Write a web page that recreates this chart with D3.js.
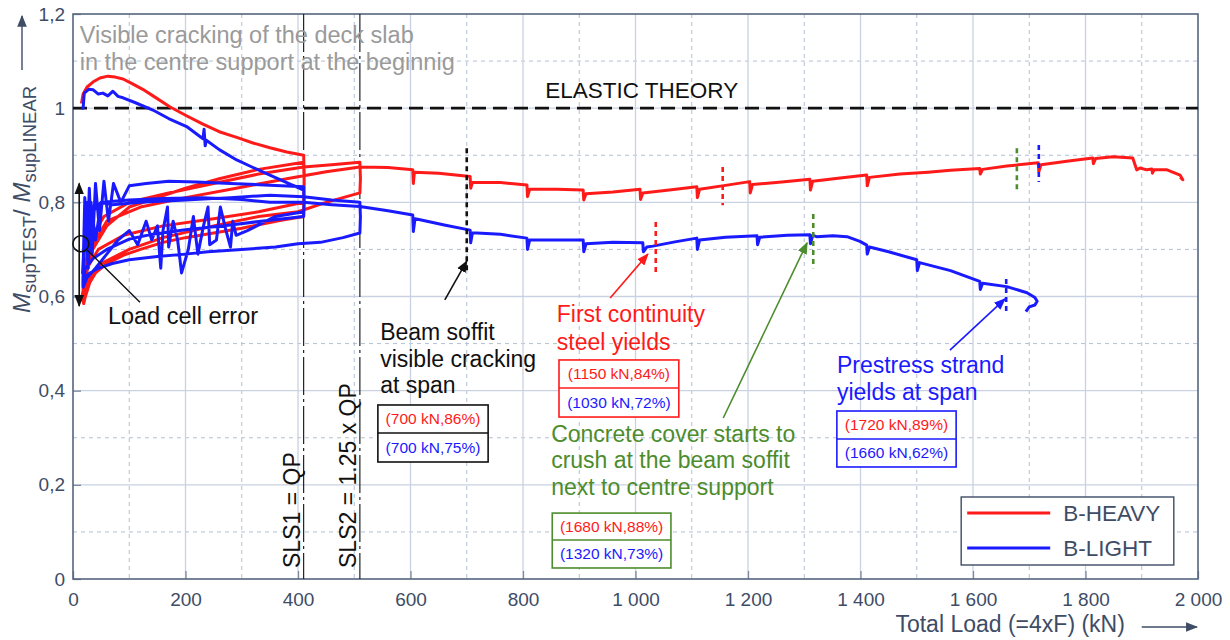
<!DOCTYPE html>
<html>
<head>
<meta charset="utf-8">
<script src="https://cdn.jsdelivr.net/npm/d3@7"></script>
<style>
  body { margin: 0; background: #fff; }
  text { font-family: "Liberation Sans", Arial, Helvetica, sans-serif; }
</style>
</head>
<body>
<div id="chart"></div>
<script>
// ---- data: [total load kN, M_supTEST / M_supLINEAR] ----
const heavy = [
  // first loading up to SLS1
  [15,1.01],[18,1.03],[25,1.045],[36,1.056],[48,1.064],[62,1.068],[75,1.066],[89,1.062],[105,1.052],[124,1.04],
  [145,1.024],[172,1.003],[200,0.985],[231,0.966],[260,0.95],[291,0.938],[320,0.926],[350,0.916],[380,0.907],[410,0.9],
  [411,0.86],[410,0.77],
  // unload 1
  [370,0.762],[300,0.745],[250,0.735],[200,0.725],[160,0.715],[120,0.7],[90,0.688],[60,0.67],[40,0.65],[30,0.63],[22,0.6],[19,0.585],[16,0.6],
  // reload 2
  [22,0.64],[35,0.7],[60,0.75],[100,0.79],[150,0.81],[200,0.83],[260,0.85],[330,0.87],[410,0.885],
  [411,0.84],[410,0.8],
  // unload 2
  [370,0.79],[330,0.78],[250,0.765],[160,0.75],[90,0.73],[45,0.7],[25,0.66],[18,0.62],
  // reload 3 up to SLS2
  [18,0.64],[30,0.72],[55,0.77],[100,0.8],[170,0.82],[250,0.84],[330,0.86],[410,0.875],[460,0.88],[510,0.885],
  [511,0.85],[510,0.82],
  // unload 3
  [450,0.8],[400,0.78],[330,0.77],[250,0.75],[160,0.725],[100,0.7],[50,0.67],[25,0.63],[18,0.6],
  // reload 4 and continuation
  [18,0.62],[30,0.7],[60,0.76],[120,0.79],[200,0.81],[290,0.83],[380,0.85],[450,0.865],[510,0.875],
  [560,0.874],[604,0.869],[605,0.84],[607,0.864],[650,0.862],[706,0.855],[707,0.83],[710,0.842],[760,0.842],
  [807,0.837],[808,0.812],[812,0.828],[860,0.828],[907,0.826],[908,0.805],[912,0.818],[960,0.822],
  [1008,0.828],[1009,0.806],[1013,0.82],[1060,0.826],[1109,0.833],[1110,0.81],[1114,0.828],[1160,0.836],
  [1203,0.844],[1204,0.82],[1208,0.838],[1260,0.843],[1310,0.849],[1311,0.826],[1315,0.845],[1360,0.851],
  [1411,0.858],[1412,0.835],[1416,0.853],[1470,0.86],[1520,0.864],[1560,0.868],[1612,0.872],[1613,0.86],
  [1617,0.87],[1660,0.877],[1716,0.884],[1717,0.865],[1721,0.88],[1770,0.888],[1813,0.894],[1814,0.882],
  [1818,0.893],[1849,0.897],[1884,0.894],[1891,0.869],[1897,0.873],[1909,0.869],[1918,0.871],[1919,0.862],
  [1922,0.869],[1945,0.869],[1968,0.858],[1973,0.848],[1968,0.854]
];

const light = [
  // first loading up to SLS1
  [15,1.0],[18,1.0],[20,1.032],[28,1.04],[36,1.039],[45,1.03],[53,1.032],[62,1.026],[71,1.036],[80,1.025],
  [89,1.022],[110,1.012],[142,0.996],[170,0.978],[202,0.961],[231,0.935],[233,0.955],[235,0.92],[237,0.932],
  [260,0.912],[291,0.89],[320,0.874],[350,0.858],[380,0.842],[410,0.826],
  [411,0.8],[410,0.77],
  // unload 1
  [350,0.762],[280,0.752],[200,0.742],[140,0.732],[100,0.722],[60,0.7],[35,0.68],[22,0.66],[18,0.63],
  // reload 2 (load cell error at start)
  [18,0.66],[21,0.81],[25,0.7],[29,0.83],[34,0.69],[40,0.84],[47,0.74],[55,0.845],[63,0.76],[72,0.84],
  [85,0.8],[100,0.835],[130,0.84],[170,0.845],[220,0.843],[280,0.84],[340,0.837],[410,0.833],
  [411,0.8],[410,0.78],
  // unload 2 with oscillations
  [360,0.77],[310,0.74],[290,0.73],[284,0.76],[280,0.705],[272,0.74],[262,0.79],[255,0.72],[243,0.71],
  [240,0.79],[232,0.75],[222,0.69],[214,0.77],[205,0.7],[193,0.65],[186,0.72],[178,0.76],[170,0.705],
  [168,0.79],[160,0.74],[156,0.66],[150,0.75],[140,0.72],[130,0.76],[115,0.71],[100,0.74],[80,0.72],
  [60,0.69],[40,0.66],[25,0.64],[18,0.62],
  // reload 3 up to SLS2
  [18,0.64],[22,0.76],[27,0.66],[32,0.8],[40,0.72],[50,0.8],[70,0.795],[120,0.8],[200,0.805],[280,0.81],
  [350,0.815],[410,0.812],[460,0.805],[510,0.8],
  [511,0.77],[510,0.735],
  // unload 3 (lowest branch)
  [480,0.725],[440,0.715],[400,0.712],[360,0.705],[300,0.7],[240,0.695],[200,0.69],[150,0.685],[100,0.678],
  [70,0.67],[45,0.66],[30,0.65],[20,0.64],[17,0.65],
  // reload 4 and continuation
  [20,0.72],[26,0.8],[35,0.78],[50,0.8],[100,0.805],[160,0.808],[230,0.81],[300,0.806],[350,0.8],[410,0.8],
  [460,0.795],[510,0.791],[560,0.782],[604,0.773],[605,0.738],[608,0.765],[617,0.763],[660,0.752],
  [706,0.741],[707,0.714],[710,0.735],[718,0.735],[760,0.732],[807,0.724],[808,0.7],[812,0.72],[860,0.72],
  [907,0.72],[908,0.695],[912,0.712],[960,0.715],[1013,0.714],[1014,0.695],[1020,0.705],[1031,0.707],
  [1070,0.716],[1109,0.724],[1110,0.7],[1114,0.72],[1160,0.726],[1216,0.729],[1217,0.71],[1221,0.726],
  [1270,0.73],[1310,0.731],[1311,0.712],[1315,0.73],[1322,0.727],[1351,0.729],[1376,0.727],[1399,0.717],
  [1411,0.709],[1412,0.69],[1416,0.705],[1450,0.695],[1500,0.678],[1501,0.655],[1505,0.672],[1560,0.655],
  [1612,0.632],[1613,0.615],[1617,0.628],[1660,0.621],[1696,0.608],[1710,0.598],[1714,0.59],[1710,0.582],
  [1700,0.578],[1694,0.568]
];

// event markers: [load, top ratio, bottom ratio, colour]
const events = [
  [700, 0.915, 0.652, "#111"],
  [1155, 0.875, 0.794, "#ff1a1a"],
  [1036, 0.758, 0.65, "#ff1a1a"],
  [1316, 0.775, 0.66, "#4c8c2c"],
  [1678, 0.915, 0.82, "#4c8c2c"],
  [1717, 0.922, 0.843, "#1a1aff"],
  [1659, 0.637, 0.561, "#1a1aff"]
];

const slsLoads = [410, 510];
const slsLabels = ["SLS1 = QP", "SLS2 = 1.25 x QP"];
const seriesNames = ["B-HEAVY", "B-LIGHT"];
const xTicks = [0, 200, 400, 600, 800, 1000, 1200, 1400, 1600, 1800, 2000];
const yTicks = [0, 0.2, 0.4, 0.6, 0.8, 1.0, 1.2];

// ---- layout ----
const RED = "#ff1a1a", BLUE = "#1a1aff", GREEN = "#4c8c2c", SLATE = "#3e4c66";
const margin = {top: 14, right: 32, bottom: 61, left: 73};
const width = 1230 - margin.left - margin.right;
const height = 640 - margin.top - margin.bottom;

const svg = d3.select("#chart").append("svg")
  .attr("width", 1230).attr("height", 640);

const defs = svg.append("defs");
function arrowMarker(id, color, size) {
  defs.append("marker")
    .attr("id", id).attr("viewBox", "0 0 10 10")
    .attr("refX", 9).attr("refY", 5)
    .attr("markerWidth", size).attr("markerHeight", size)
    .attr("markerUnits", "userSpaceOnUse")
    .attr("orient", "auto-start-reverse")
    .append("path").attr("d", "M0,1 L10,5 L0,9 Z").attr("fill", color);
}
arrowMarker("ah-black", "#111", 12);
arrowMarker("ah-red", RED, 12);
arrowMarker("ah-green", GREEN, 12);
arrowMarker("ah-blue", BLUE, 12);
arrowMarker("ah-slate", SLATE, 12);

const g = svg.append("g").attr("transform", `translate(${margin.left},${margin.top})`);

const x = d3.scaleLinear().domain([0, 2000]).range([0, width]);
const y = d3.scaleLinear().domain([0, 1.2]).range([height, 0]);

// ---- grid ----
const minorX = d3.range(100, 2000, 200);
const minorY = d3.range(0.1, 1.2, 0.2);
g.append("g").selectAll("line").data(minorX).enter().append("line")
  .attr("x1", d => x(d)).attr("x2", d => x(d)).attr("y1", 0).attr("y2", height)
  .attr("stroke", "#b3bfd3").attr("stroke-width", 1).attr("stroke-dasharray", "4,4");
g.append("g").selectAll("line").data(minorY).enter().append("line")
  .attr("y1", d => y(d)).attr("y2", d => y(d)).attr("x1", 0).attr("x2", width)
  .attr("stroke", "#b3bfd3").attr("stroke-width", 1).attr("stroke-dasharray", "4,4");
g.append("g").selectAll("line").data(xTicks.slice(1, -1)).enter().append("line")
  .attr("x1", d => x(d)).attr("x2", d => x(d)).attr("y1", 0).attr("y2", height)
  .attr("stroke", "#c9d2e2").attr("stroke-width", 1.3);
g.append("g").selectAll("line").data(yTicks.slice(1, -1)).enter().append("line")
  .attr("y1", d => y(d)).attr("y2", d => y(d)).attr("x1", 0).attr("x2", width)
  .attr("stroke", "#c9d2e2").attr("stroke-width", 1.3);

// ---- axes ----
const fmtX = d => d >= 1000 ? d3.format(",")(d).replace(",", " ") : String(d);
const fmtY = d => String(+d.toFixed(1)).replace(".", ",");

const xAxis = g.append("g").attr("transform", `translate(0,${height})`)
  .call(d3.axisBottom(x).tickValues(xTicks).tickFormat(fmtX).tickSize(-8).tickPadding(14));
const yAxis = g.append("g")
  .call(d3.axisLeft(y).tickValues(yTicks).tickFormat(fmtY).tickSize(-8).tickPadding(8));
[xAxis, yAxis].forEach(a => {
  a.select(".domain").remove();
  a.selectAll(".tick line").attr("stroke", "#7d8aa0").attr("stroke-width", 1.3);
  a.selectAll(".tick text").attr("fill", SLATE).style("font-size", "19px")
    .style("font-family", "'Liberation Sans', Arial, sans-serif");
});

g.append("rect").attr("width", width).attr("height", height)
  .attr("fill", "none").attr("stroke", "#56657d").attr("stroke-width", 1.6);

// ---- SLS lines ----
g.append("g").selectAll("line").data(slsLoads).enter().append("line")
  .attr("x1", d => x(d)).attr("x2", d => x(d)).attr("y1", 0).attr("y2", height)
  .attr("stroke", "#222").attr("stroke-width", 1.2).attr("stroke-dasharray", "38,4,3,4");
g.append("g").selectAll("text").data(slsLoads).enter().append("text")
  .attr("transform", (d, i) => `translate(${x(d) - 4},${y(0.0234)}) rotate(-90)`)
  .style("font-size", "23px").attr("fill", "#111")
  .text((d, i) => slsLabels[i]);

// ---- elastic theory ----
g.append("line").attr("x1", x(0)).attr("x2", x(2000)).attr("y1", y(1)).attr("y2", y(1))
  .attr("stroke", "#111").attr("stroke-width", 2.6).attr("stroke-dasharray", "14,7");
g.append("text").attr("x", x(1011)).attr("y", y(1.0217)).attr("text-anchor", "middle")
  .style("font-size", "22.5px").attr("fill", "#111").text("ELASTIC THEORY");

g.append("text").attr("x", x(12)).attr("y", y(1.1385)).style("font-size", "23.5px")
  .attr("fill", "#9a9a9a").text("Visible cracking of the deck slab");
g.append("text").attr("x", x(12)).attr("y", y(1.081)).style("font-size", "23.5px")
  .attr("fill", "#9a9a9a").text("in the centre support at the beginnig");

// ---- curves ----
const line = d3.line().x(d => x(d[0])).y(d => y(d[1]));
g.append("path").datum(heavy).attr("d", line).attr("fill", "none")
  .attr("stroke", RED).attr("stroke-width", 3).attr("stroke-linejoin", "round");
g.append("path").datum(light).attr("d", line).attr("fill", "none")
  .attr("stroke", BLUE).attr("stroke-width", 3).attr("stroke-linejoin", "round");

// ---- event markers ----
g.append("g").selectAll("line").data(events).enter().append("line")
  .attr("x1", d => x(d[0])).attr("x2", d => x(d[0]))
  .attr("y1", d => y(d[1])).attr("y2", d => y(d[2]))
  .attr("stroke", d => d[3]).attr("stroke-width", 2.6).attr("stroke-dasharray", "5,4");

// ---- load cell error ----
g.append("line").attr("x1", x(11)).attr("x2", x(11)).attr("y1", y(0.84)).attr("y2", y(0.58))
  .attr("stroke", "#111").attr("stroke-width", 1.6)
  .attr("marker-start", "url(#ah-black)").attr("marker-end", "url(#ah-black)");
g.append("circle").attr("cx", x(14)).attr("cy", y(0.712)).attr("r", 8)
  .attr("fill", "none").attr("stroke", "#111").attr("stroke-width", 1.6);
g.append("line").attr("x1", x(25)).attr("y1", y(0.699)).attr("x2", x(119)).attr("y2", y(0.588))
  .attr("stroke", "#111").attr("stroke-width", 1.4);
g.append("text").attr("x", x(62)).attr("y", y(0.5416)).style("font-size", "23.5px")
  .attr("fill", "#111").text("Load cell error");

// ---- callouts ----
function arrow(x0, y0, x1, y1, color, id) {
  g.append("line").attr("x1", x(x0)).attr("y1", y(y0)).attr("x2", x(x1)).attr("y2", y(y1))
    .attr("stroke", color).attr("stroke-width", 1.6).attr("marker-end", `url(#${id})`);
}
function lines(xk, ys, txt, color) {
  txt.forEach((t, i) => g.append("text").attr("x", x(xk)).attr("y", y(ys[i]))
    .style("font-size", "23px").attr("fill", color).text(t));
}
function box(x0, x1, yTop, yMid, yBot, border, a, b) {
  g.append("rect").attr("x", x(x0)).attr("y", y(yTop))
    .attr("width", x(x1) - x(x0)).attr("height", y(yBot) - y(yTop))
    .attr("fill", "#fff").attr("stroke", border).attr("stroke-width", 1.6);
  g.append("line").attr("x1", x(x0)).attr("x2", x(x1)).attr("y1", y(yMid)).attr("y2", y(yMid))
    .attr("stroke", border).attr("stroke-width", 1.6);
  const cx = (x(x0) + x(x1)) / 2;
  g.append("text").attr("x", cx).attr("y", (y(yTop) + y(yMid)) / 2).attr("dy", "0.35em")
    .attr("text-anchor", "middle").style("font-size", "15.5px").attr("fill", RED).text(a);
  g.append("text").attr("x", cx).attr("y", (y(yMid) + y(yBot)) / 2).attr("dy", "0.35em")
    .attr("text-anchor", "middle").style("font-size", "15.5px").attr("fill", BLUE).text(b);
}

arrow(661, 0.593, 700, 0.675, "#111", "ah-black");
lines(546, [0.5076, 0.4503, 0.395], ["Beam soffit", "visible cracking", "at span"], "#111");
box(542, 738, 0.3696, 0.31, 0.2485, "#111", "(700 kN,86%)", "(700 kN,75%)");

arrow(955, 0.597, 1022, 0.69, RED, "ah-red");
lines(860, [0.546, 0.4864], ["First continuity", "steel yields"], RED);
box(864, 1077, 0.4652, 0.4057, 0.344, RED, "(1150 kN,84%)", "(1030 kN,72%)");

arrow(1156, 0.342, 1305, 0.714, GREEN, "ah-green");
lines(850, [0.291, 0.2358, 0.1784],
  ["Concrete cover starts to", "crush at the beam soffit", "next to centre support"], GREEN);
box(852, 1063, 0.14, 0.0828, 0.0234, GREEN, "(1680 kN,88%)", "(1320 kN,73%)");

arrow(1559, 0.486, 1657, 0.595, BLUE, "ah-blue");
lines(1358, [0.4375, 0.38], ["Prestress strand", "yields at span"], BLUE);
box(1358, 1570, 0.3568, 0.2974, 0.2379, BLUE, "(1720 kN,89%)", "(1660 kN,62%)");

// ---- legend ----
const legend = g.append("g").attr("transform", `translate(${x(1579)},${height - 82})`);
legend.append("rect").attr("width", x(1957) - x(1579)).attr("height", 68)
  .attr("fill", "#fff").attr("stroke", "#3e4c66").attr("stroke-width", 1.4);
seriesNames.forEach((name, i) => {
  legend.append("line").attr("x1", 6).attr("x2", 89).attr("y1", 16 + i * 35).attr("y2", 16 + i * 35)
    .attr("stroke", i === 0 ? RED : BLUE).attr("stroke-width", 3);
  legend.append("text").attr("x", 102).attr("y", 16 + i * 35).attr("dy", "0.36em")
    .style("font-size", "22.5px").attr("fill", SLATE).text(name);
});

// ---- axis titles ----
const xt = g.append("g");
xt.append("text").attr("x", x(1870)).attr("y", height + 53).attr("text-anchor", "end")
  .style("font-size", "23px").attr("fill", SLATE).text("Total Load (=4xF) (kN)");
xt.append("line").attr("x1", x(1900)).attr("x2", x(1998)).attr("y1", height + 48).attr("y2", height + 48)
  .attr("stroke", SLATE).attr("stroke-width", 1.4).attr("marker-end", "url(#ah-slate)");

const yt = svg.append("text").attr("transform", "translate(30,313) rotate(-90)")
  .attr("fill", SLATE).style("font-size", "24px");
yt.append("tspan").style("font-style", "italic").text("M");
yt.append("tspan").attr("dy", 6).style("font-size", "18.5px").text("supTEST");
yt.append("tspan").attr("dy", -6).text("/ ");
yt.append("tspan").style("font-style", "italic").text("M");
yt.append("tspan").attr("dy", 6).style("font-size", "18.5px").text("supLINEAR");
svg.append("line").attr("x1", 22).attr("x2", 22).attr("y1", 70).attr("y2", 16)
  .attr("stroke", SLATE).attr("stroke-width", 1.4).attr("marker-end", "url(#ah-slate)");
</script>
</body>
</html>
